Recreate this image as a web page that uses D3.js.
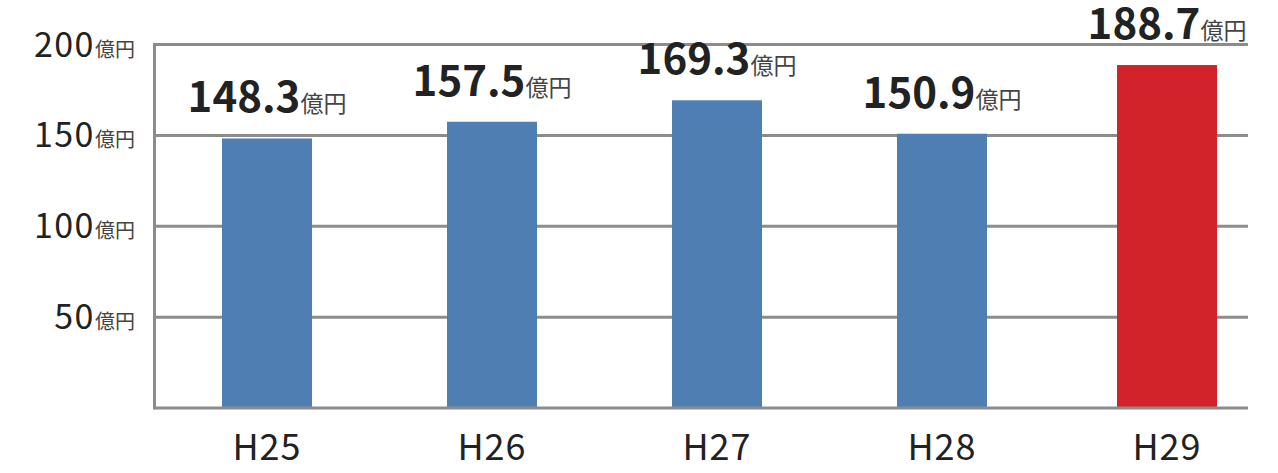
<!DOCTYPE html>
<html>
<head>
<meta charset="utf-8">
<script src="https://cdn.jsdelivr.net/npm/d3@7"></script>
<style>
  body { margin: 0; background: #fff; }
  svg { display: block; font-family: "Noto Sans CJK JP", "Noto Sans", sans-serif; }
</style>
</head>
<body>
<svg width="1278" height="473"></svg>
<script>
var years = ["H25", "H26", "H27", "H28", "H29"];
var values = [148.3, 157.5, 169.3, 150.9, 188.7];
var yTicks = [50, 100, 150, 200];
var unit = "億円";

var svg = d3.select("svg");
var plotLeft = 154.5, plotRight = 1248, plotTop = 44.5, plotBottom = 408;

var x = d3.scaleBand().domain(years).range([plotLeft, plotLeft + 225 * years.length]);
var y = d3.scaleLinear().domain([0, 200]).range([plotBottom, plotTop]);

// gridlines
svg.selectAll("line.grid")
    .data(yTicks)
    .enter().append("line")
    .attr("class", "grid")
    .attr("x1", plotLeft)
    .attr("x2", plotRight)
    .attr("y1", function (d) { return y(d); })
    .attr("y2", function (d) { return y(d); })
    .style("stroke", "#8c8c8c")
    .style("stroke-width", 3);

// bars
svg.selectAll("rect")
    .data(values)
    .enter().append("rect")
    .attr("x", function (d, i) {
        var w = i == values.length - 1 ? 100 : 90;
        return x(years[i]) + x.bandwidth() / 2 - w / 2;
    })
    .attr("y", function (d) { return y(d); })
    .attr("width", function (d, i) { return i == values.length - 1 ? 100 : 90; })
    .attr("height", function (d) { return plotBottom - y(d); })
    .style("fill", function (d, i) { return i == values.length - 1 ? "#d2232a" : "#4f7eb3"; });

// axes
svg.append("line")
    .attr("x1", plotLeft).attr("x2", plotLeft)
    .attr("y1", plotTop - 1.5).attr("y2", plotBottom + 1.5)
    .style("stroke", "#8c8c8c").style("stroke-width", 3);
svg.append("line")
    .attr("x1", plotLeft).attr("x2", plotRight)
    .attr("y1", plotBottom).attr("y2", plotBottom)
    .style("stroke", "#8c8c8c").style("stroke-width", 3);

// y tick labels
var yl = svg.selectAll("text.ytick")
    .data(yTicks)
    .enter().append("text")
    .attr("class", "ytick")
    .attr("x", 135)
    .attr("y", function (d) { return y(d) + 12; })
    .attr("text-anchor", "end")
    .style("fill", "#222");
yl.append("tspan").style("font-size", "34px").style("letter-spacing", "1.5px").text(function (d) { return d; });
yl.append("tspan").style("font-size", "20px").style("fill", "#444").text(unit);

// x labels
svg.selectAll("text.xlab")
    .data(years)
    .enter().append("text")
    .attr("class", "xlab")
    .attr("x", function (d) { return x(d) + x.bandwidth() / 2; })
    .attr("y", 460)
    .attr("text-anchor", "middle")
    .style("font-size", "36px")
    .style("letter-spacing", "1px")
    .style("fill", "#222")
    .text(function (d) { return d; });

// value labels
var vl = svg.selectAll("text.val")
    .data(values)
    .enter().append("text")
    .attr("class", "val")
    .attr("x", function (d, i) { return x(years[i]) + x.bandwidth() / 2; })
    .attr("y", function (d) { return y(d) - 26; })
    .attr("text-anchor", "middle")
    .style("fill", "#222");
vl.append("tspan").style("font-size", "42px").style("font-weight", "bold").text(function (d) { return d.toFixed(1); });
vl.append("tspan").style("font-size", "23px").style("fill", "#444").text(unit);
</script>
</body>
</html>
